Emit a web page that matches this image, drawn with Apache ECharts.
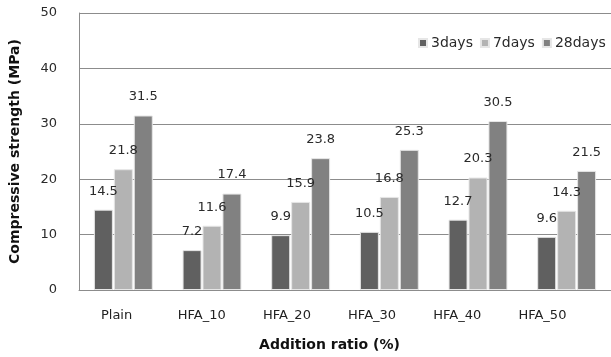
<!DOCTYPE html>
<html>
<head>
<meta charset="utf-8">
<style>
  html, body { margin: 0; padding: 0; background: #fff; }
  #chart { width: 611px; height: 357px; }
</style>
<script src="https://cdn.jsdelivr.net/npm/echarts@6/dist/echarts.min.js"></script>
</head>
<body>
<div id="chart"></div>
<script>
// Mix designs and compressive strength at each curing age (MPa)
const categories = ['Plain', 'HFA_10', 'HFA_20', 'HFA_30', 'HFA_40', 'HFA_50'];
const days3 = [14.5, 7.2, 9.9, 10.5, 12.7, 9.6];
const days7 = [21.8, 11.6, 15.9, 16.8, 20.3, 14.3];
const days28 = [31.5, 17.4, 23.8, 25.3, 30.5, 21.5];
const seriesNames = ['3days', '7days', '28days'];
const yTicks = [0, 10, 20, 30, 40, 50];

const FONT = 'DejaVu Sans';
const colors = ['#606060', '#b3b3b3', '#818181'];

const chart = echarts.init(document.getElementById('chart'), null, { renderer: 'canvas' });

function barSeries(name, data, color) {
  return {
    name: name,
    type: 'bar',
    xAxisIndex: 0,
    yAxisIndex: 0,
    data: data,
    barWidth: 19,
    barGap: '5%',
    barCategoryGap: '34%',
    itemStyle: { color: color, borderColor: '#e6e6e6', borderWidth: 1 },
    label: {
      show: true,
      position: 'top',
      distance: 12,
      color: '#2a2a2a',
      fontFamily: FONT,
      fontSize: 13
    }
  };
}

chart.setOption({
  animation: false,
  color: colors,
  legend: {
    data: seriesNames,
    top: 31,
    left: 413,
    itemWidth: 8,
    itemHeight: 8,
    itemGap: 7,
    icon: 'rect',
    textStyle: { fontFamily: FONT, fontSize: 14, color: '#2a2a2a', padding: [0, 0, 0, -1] }
  },
  grid: [
    { left: 74, top: 13, width: 542, bottom: 67, containLabel: false },
    { left: 74, top: 13, width: 511, bottom: 67, containLabel: false }
  ],
  xAxis: [
    {
      type: 'category',
      gridIndex: 0,
      data: categories,
      axisLine: { lineStyle: { color: '#8c8c8c' } },
      axisTick: { show: false },
      axisLabel: { show: false }
    },
    {
      type: 'category',
      gridIndex: 1,
      data: categories,
      axisLine: { show: false },
      axisTick: { show: false },
      axisLabel: { fontFamily: FONT, fontSize: 13, color: '#222', margin: 23 },
      name: 'Addition ratio (%)',
      nameLocation: 'middle',
      nameGap: 52,
      nameTextStyle: { fontFamily: FONT, fontSize: 14, fontWeight: 'bold', color: '#111' }
    }
  ],
  yAxis: [
    {
      type: 'value',
      gridIndex: 0,
      min: yTicks[0],
      max: yTicks[yTicks.length - 1],
      interval: yTicks[1] - yTicks[0],
      axisLine: { show: true, lineStyle: { color: '#8c8c8c' } },
      axisTick: { show: false },
      splitLine: { lineStyle: { color: '#8c8c8c', width: 1 } },
      axisLabel: { fontFamily: FONT, fontSize: 13, color: '#2a2a2a', margin: 22 },
      name: 'Compressive strength (MPa)',
      nameLocation: 'middle',
      nameGap: 57,
      nameTextStyle: { fontFamily: FONT, fontSize: 14, fontWeight: 'bold', color: '#111' }
    },
    {
      type: 'value',
      gridIndex: 1,
      min: 0,
      max: 50,
      show: false
    }
  ],
  series: [
    barSeries(seriesNames[0], days3, colors[0]),
    barSeries(seriesNames[1], days7, colors[1]),
    barSeries(seriesNames[2], days28, colors[2])
  ]
});
</script>
</body>
</html>
